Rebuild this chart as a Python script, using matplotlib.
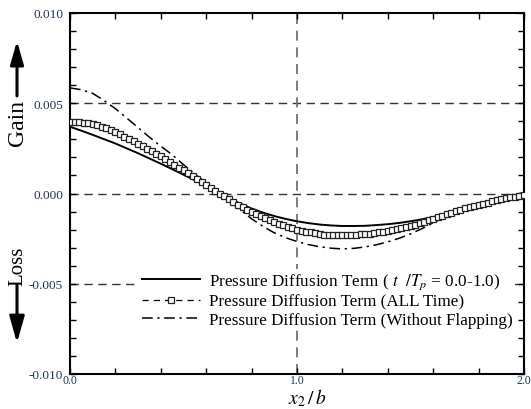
import numpy as np
import matplotlib
matplotlib.use("Agg")
import matplotlib.pyplot as plt
from matplotlib.ticker import MultipleLocator, FixedLocator, FuncFormatter
from matplotlib.patches import FancyArrowPatch

plt.rcParams['font.family'] = ['Liberation Serif', 'DejaVu Serif']
plt.rcParams['mathtext.fontset'] = 'stix'

# ---------------- data ----------------
x_sq = [round(0.02 * i, 2) for i in range(101)]
y_sq = [0.00395, 0.00395, 0.00394, 0.00392, 0.00389, 0.00385, 0.00378, 0.00370, 0.00361, 0.00351,
        0.00340, 0.00328, 0.00315, 0.00302, 0.00289, 0.00275, 0.00261, 0.00247, 0.00233, 0.00219,
        0.00205, 0.00190, 0.00175, 0.00159, 0.00144, 0.00128, 0.00112, 0.00096, 0.00080, 0.00064,
        0.00048, 0.00032, 0.00016, 0.00000, -0.00015, -0.00030, -0.00046, -0.00061, -0.00075, -0.00089,
        -0.00102, -0.00114, -0.00126, -0.00137, -0.00148, -0.00158, -0.00167, -0.00176, -0.00185, -0.00193,
        -0.00200, -0.00206, -0.00211, -0.00216, -0.00221, -0.00225, -0.00228, -0.00230, -0.00231, -0.00232,
        -0.00232, -0.00232, -0.00231, -0.00229, -0.00227, -0.00225, -0.00222, -0.00219, -0.00215, -0.00211,
        -0.00207, -0.00202, -0.00197, -0.00192, -0.00186, -0.00180, -0.00172, -0.00164, -0.00156, -0.00148,
        -0.00140, -0.00131, -0.00123, -0.00114, -0.00106, -0.00098, -0.00091, -0.00083, -0.00076, -0.00069,
        -0.00062, -0.00056, -0.00050, -0.00044, -0.00038, -0.00032, -0.00027, -0.00022, -0.00018, -0.00014,
        -0.00010]

x_ln = [round(0.05 * i, 2) for i in range(41)]
y_solid = [0.00370, 0.00348, 0.00325, 0.00301, 0.00277, 0.00250, 0.00223, 0.00194, 0.00165, 0.00135,
           0.00104, 0.00073, 0.00042, 0.00008, -0.00026, -0.00056, -0.00083, -0.00106, -0.00125, -0.00141,
           -0.00154, -0.00164, -0.00172, -0.00177, -0.00180, -0.00180, -0.00179, -0.00175, -0.00170, -0.00163,
           -0.00154, -0.00143, -0.00130, -0.00115, -0.00098, -0.00080, -0.00062, -0.00046, -0.00030, -0.00017,
           -0.00005]
y_dashdot = [0.00585, 0.00575, 0.00555, 0.00515, 0.00470, 0.00418, 0.00365, 0.00312, 0.00262, 0.00215,
             0.00160, 0.00108, 0.00058, 0.00010, -0.00040, -0.00090, -0.00140, -0.00182, -0.00218, -0.00245,
             -0.00266, -0.00283, -0.00295, -0.00303, -0.00307, -0.00304, -0.00296, -0.00284, -0.00268, -0.00248,
             -0.00224, -0.00195, -0.00163, -0.00130, -0.00100, -0.00075, -0.00055, -0.00037, -0.00020, -0.00007,
             0.00005]

labels = [r"Pressure Diffusion Term ( $t\ \ /T_p$ = 0.0-1.0)",
          "Pressure Diffusion Term (ALL Time)",
          "Pressure Diffusion Term (Without Flapping)"]

# ---------------- figure ----------------
fig = plt.figure(figsize=(5.31, 4.10), dpi=100)
ax = fig.add_axes([70 / 531, 35 / 410, 454 / 531, 361 / 410])

grid_kw = dict(color='#333333', linewidth=1.0, dashes=(6, 4), zorder=1)
for yv in (0.005, 0.0, -0.005):
    ax.axhline(yv, **grid_kw)
ax.axvline(1.0, color='#666666', linewidth=1.2, dashes=(6, 4), zorder=1)

l1, = ax.plot(x_ln, y_solid, color='black', linewidth=1.4, zorder=3, label=labels[0])
l2, = ax.plot(x_sq, y_sq, color='black', linewidth=0.9, dashes=(5, 4), marker='s',
              markersize=4.2, markerfacecolor='white', markeredgecolor='#222222',
              markeredgewidth=0.9, zorder=4, label=labels[1])
l3, = ax.plot(x_ln, y_dashdot, color='black', linewidth=1.1, dashes=(7, 3, 1.5, 3),
              zorder=2, label=labels[2])

ax.set_xlim(0, 2.0)
ax.set_ylim(-0.010, 0.010)

ax.xaxis.set_major_locator(FixedLocator([0.0, 1.0, 2.0]))
ax.xaxis.set_minor_locator(MultipleLocator(0.2))
ax.xaxis.set_major_formatter(FuncFormatter(lambda v, p: f"{v:.1f}"))
ax.yaxis.set_major_locator(MultipleLocator(0.005))
ax.yaxis.set_minor_locator(MultipleLocator(0.001))
ax.yaxis.set_major_formatter(FuncFormatter(lambda v, p: f"{v:.3f}"))

tick_color = '#1f3556'
ax.tick_params(which='both', direction='in', top=True, right=True, length=4, width=1.0)
ax.tick_params(axis='x', which='major', labelsize=8.5, pad=0.3, labelcolor=tick_color)
ax.tick_params(axis='y', which='major', labelsize=9.5, pad=5, labelcolor=tick_color)
for sp in ax.spines.values():
    sp.set_linewidth(1.5)

ax.set_xlabel(r"$x_2\,/\,b$", fontsize=14)
ax.xaxis.set_label_coords(0.523, -0.094)
ax.xaxis.label.set_va('bottom')

leg = ax.legend(handles=[l1, l2, l3], loc='upper left', bbox_to_anchor=(0.153, 0.29),
                frameon=True, facecolor='white', edgecolor='none', framealpha=1.0,
                fancybox=False, fontsize=12.3, handlelength=3.4, handletextpad=0.5,
                labelspacing=0.12, borderaxespad=0, borderpad=0.15)
leg.set_zorder(5)

# Gain / Loss annotations
fig.text(17 / 531, 1 - 123 / 410, "Gain", rotation=90, fontsize=17, ha='center', va='center')
fig.text(18 / 531, 1 - 266 / 410, "Loss", rotation=90, fontsize=15, ha='center', va='center')
fig.add_artist(FancyArrowPatch(
    (17 / 531, 1 - 97 / 410), (17 / 531, 1 - 42 / 410), transform=fig.transFigure,
    arrowstyle='-|>,head_length=14,head_width=4', linewidth=2.2, color='black',
    mutation_scale=1, shrinkA=0, shrinkB=0))
fig.add_artist(FancyArrowPatch(
    (17 / 531, 1 - 286 / 410), (17 / 531, 1 - 344 / 410), transform=fig.transFigure,
    arrowstyle='-|>,head_length=16,head_width=4.5', linewidth=2.2, color='black',
    mutation_scale=1, shrinkA=0, shrinkB=0))

fig.savefig("out.png", dpi=100)
